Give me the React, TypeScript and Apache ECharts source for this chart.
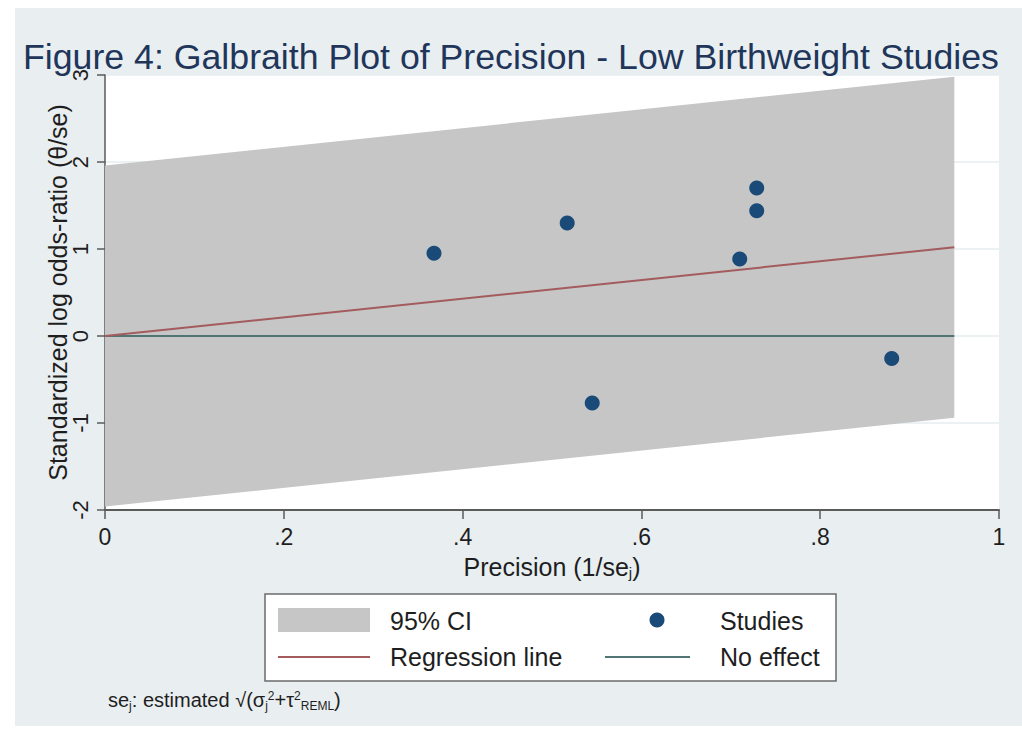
import React, { useEffect, useRef } from "react";
import * as echarts from "echarts";

const studyPrecision = [0.368, 0.517, 0.545, 0.71, 0.729, 0.729, 0.88];
const studyStdEffect = [0.95, 1.3, -0.77, 0.885, 1.7, 1.44, -0.26];

const bandX = [0, 0.95];
const bandUpper = [1.96, 2.98];
const bandLower = [-1.96, -0.94];

const regX = [0, 0.95];
const regY = [0, 1.02];

const noEffectX = [0, 0.95];
const noEffectY = [0, 0];

const xTicks = ["0", ".2", ".4", ".6", ".8", "1"];

const FONT = "'Liberation Sans', Arial, Helvetica, sans-serif";
const BAND = "#c6c6c6";
const DOT = "#1a4a78";
const REG = "#a35b5e";
const NOEFF = "#4f7674";
const TXT = "#1e1e1e";

export default function App() {
  const ref = useRef<HTMLDivElement>(null);
  useEffect(() => {
    const chart = echarts.init(ref.current!, null, { renderer: "svg" });
    const bandData = bandX.map((x, i) => [x, bandLower[i], bandUpper[i]]);
    const option: any = {
      animation: false,
      backgroundColor: "#ffffff",
      title: {
        text: "Figure 4: Galbraith Plot of Precision - Low Birthweight Studies",
        left: 18,
        top: 34,
        textStyle: { fontFamily: FONT, fontSize: 35.7, fontWeight: "normal", color: "#1f365a" },
      },
      graphic: [
        { type: "rect", z: -10, silent: true, shape: { x: 15, y: 8, width: 1007, height: 718 }, style: { fill: "#e9eef1" } },
        // legend box
        { type: "rect", shape: { x: 265, y: 594, width: 571, height: 87 }, style: { fill: "#ffffff", stroke: "#6b6b6b", lineWidth: 1.5 } },
        { type: "rect", shape: { x: 278, y: 608, width: 92, height: 24 }, style: { fill: BAND } },
        { type: "text", x: 390, y: 621, style: { text: "95% CI", font: `25px ${FONT}`, fill: TXT, textVerticalAlign: "middle" } },
        { type: "circle", shape: { cx: 657, cy: 620, r: 7.5 }, style: { fill: DOT } },
        { type: "text", x: 720, y: 621, style: { text: "Studies", font: `25px ${FONT}`, fill: TXT, textVerticalAlign: "middle" } },
        { type: "line", shape: { x1: 278, y1: 657, x2: 370, y2: 657 }, style: { stroke: REG, lineWidth: 2 } },
        { type: "text", x: 390, y: 657, style: { text: "Regression line", font: `25px ${FONT}`, fill: TXT, textVerticalAlign: "middle" } },
        { type: "line", shape: { x1: 605, y1: 657, x2: 690, y2: 657 }, style: { stroke: NOEFF, lineWidth: 2 } },
        { type: "text", x: 720, y: 657, style: { text: "No effect", font: `25px ${FONT}`, fill: TXT, textVerticalAlign: "middle" } },
        // footnote
        {
          type: "text",
          x: 108,
          y: 700,
          style: {
            text: "se{sub|j}: estimated √(σ{sub|j}{sup|2}+τ{sup|2}{sub|REML})",
            font: `20px ${FONT}`,
            fill: TXT,
            textVerticalAlign: "middle",
            rich: {
              sub: { fontSize: 12, fontFamily: FONT, fill: TXT, padding: [11, 0, 0, 0] },
              sup: { fontSize: 12, fontFamily: FONT, fill: TXT, padding: [0, 0, 9, 0] },
            },
          },
        },
      ],
      grid: {
        left: 105,
        top: 75,
        width: 894,
        height: 435,
        show: true,
        backgroundColor: "#ffffff",
        borderWidth: 0,
      },
      xAxis: {
        type: "value",
        min: 0,
        max: 1,
        interval: 0.2,
        name: "Precision (1/se{j|j})",
        nameLocation: "middle",
        nameGap: 43,
        nameTextStyle: {
          fontFamily: FONT,
          fontSize: 25,
          color: TXT,
          rich: { j: { fontSize: 15, fontFamily: FONT, color: TXT, padding: [12, 0, 0, 0] } },
        },
        axisLine: { show: true, onZero: false, lineStyle: { color: "#5a5a5a", width: 2 } },
        axisTick: { show: true, length: 9, lineStyle: { color: "#5a5a5a", width: 1.5 } },
        axisLabel: {
          fontFamily: FONT,
          fontSize: 23,
          color: TXT,
          margin: 15,
          formatter: (v: number) => xTicks[Math.round(v * 5)] ?? "",
        },
        splitLine: { show: false },
      },
      yAxis: {
        type: "value",
        min: -2,
        max: 3,
        interval: 1,
        name: "Standardized log odds-ratio (θ/se)",
        nameLocation: "middle",
        nameRotate: 90,
        nameGap: 35,
        nameMoveOverlap: false,
        nameTextStyle: { fontFamily: FONT, fontSize: 25, color: TXT },
        axisLine: { show: true, onZero: false, lineStyle: { color: "#5a5a5a", width: 1.5 } },
        axisTick: { show: true, length: 8, lineStyle: { color: "#5a5a5a", width: 1.5 } },
        axisLabel: { fontFamily: FONT, fontSize: 22, color: TXT, rotate: 90, margin: 14 },
        splitLine: { show: true, lineStyle: { color: "#e6ecf0", width: 1.5 } },
      },
      series: [
        {
          type: "custom",
          name: "95% CI",
          data: bandData,
          z: 1,
          silent: true,
          renderItem: (params: any, api: any) => {
            if (params.dataIndex !== 0) return null;
            const upper = bandData.map((d) => api.coord([d[0], d[2]]));
            const lower = bandData.map((d) => api.coord([d[0], d[1]])).reverse();
            return {
              type: "polygon",
              shape: { points: upper.concat(lower) },
              style: { fill: BAND },
            };
          },
        },
        {
          type: "line",
          name: "No effect",
          data: noEffectX.map((x, i) => [x, noEffectY[i]]),
          symbol: "none",
          z: 3,
          lineStyle: { color: NOEFF, width: 2 },
        },
        {
          type: "line",
          name: "Regression line",
          data: regX.map((x, i) => [x, regY[i]]),
          symbol: "none",
          z: 4,
          lineStyle: { color: REG, width: 2 },
        },
        {
          type: "scatter",
          name: "Studies",
          data: studyPrecision.map((x, i) => [x, studyStdEffect[i]]),
          symbolSize: 15,
          z: 5,
          itemStyle: { color: DOT, opacity: 1 },
        },
      ],
    };
    chart.setOption(option);
    return () => chart.dispose();
  }, []);
  return (
    <div
      ref={ref}
      style={{ position: "absolute", left: 0, top: 0, width: 1022, height: 733 }}
    />
  );
}
